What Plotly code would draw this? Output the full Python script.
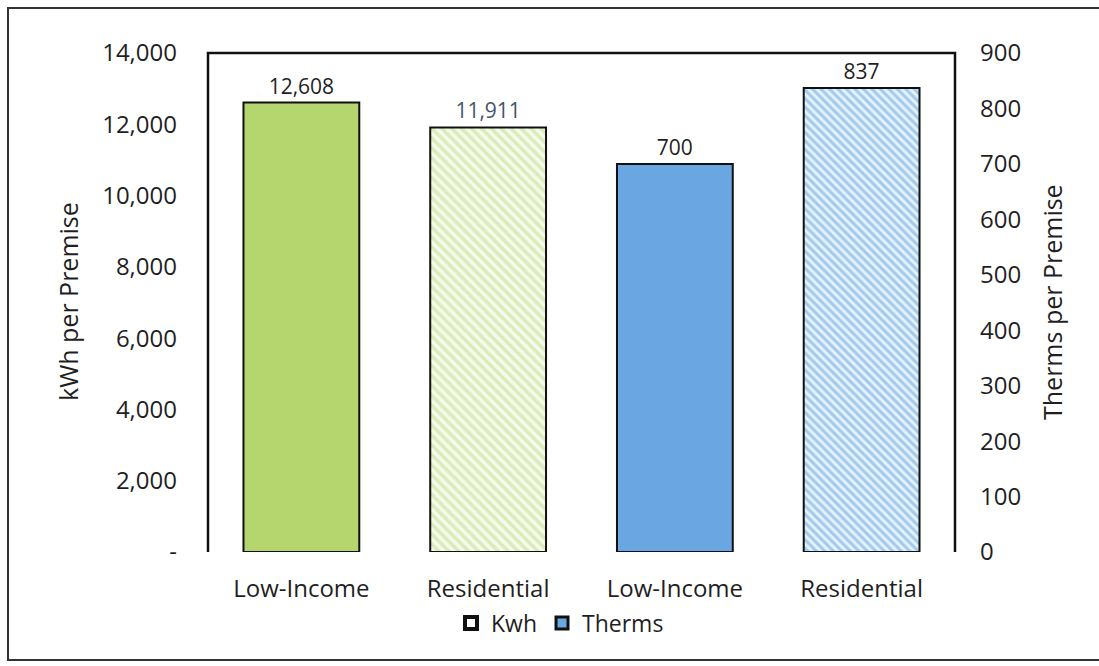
import plotly.graph_objects as go

# ---- data ----
categories = ["Low-Income", "Residential", "Low-Income", "Residential"]
kwh_values = [12608, 11911]
therms_values = [700, 837]
kwh_ticks = [0, 2000, 4000, 6000, 8000, 10000, 12000, 14000]
kwh_ticktext = ["-", "2,000", "4,000", "6,000", "8,000", "10,000", "12,000", "14,000"]
therms_ticks = [0, 100, 200, 300, 400, 500, 600, 700, 800, 900]

# ---- layout constants (pixels) ----
W, H = 1099, 666
L, R, T, B = 208, 955, 53, 552
pw, ph = R - L, B - T


def px(x):
    return (x - L) / pw


def py(y):
    return (B - y) / ph


FONT = "Open Sans"
TXT = "#1f1f1f"
GREEN = "#b5d56f"
GREEN_H = "#bfdb85"
GREEN_BG = "#f6faec"
BLUE = "#6aa6e2"
BLUE_H = "#62a2de"
BLUE_BG = "#e4f2fb"

x_kwh = list(range(len(kwh_values)))
x_therms = [len(kwh_values) + i for i in range(len(therms_values))]

kwh_styles = [
    dict(shape="", color=GREEN, fg=GREEN, bg=GREEN, label=TXT, size=7),
    dict(shape="\\", color=GREEN_BG, fg=GREEN_H, bg=GREEN_BG, label="#44546a", size=7),
]
therms_styles = [
    dict(shape="", color=BLUE, fg=BLUE, bg=BLUE, label=TXT, size=6),
    dict(shape="\\", color=BLUE_BG, fg=BLUE_H, bg=BLUE_BG, label=TXT, size=6),
]

fig = go.Figure()


def add_bar(xv, yv, axis, st):
    pattern = dict(shape=st["shape"])
    if st["shape"]:
        pattern.update(fillmode="overlay", fgcolor=st["fg"], bgcolor=st["bg"],
                       size=st["size"], solidity=0.5)
    fig.add_trace(go.Bar(
        x=[xv], y=[yv], yaxis=axis, showlegend=False, width=0.62,
        marker=dict(color=st["color"], line=dict(color="#111111", width=2), pattern=pattern),
        texttemplate="%{y:,}", textposition="outside",
        textfont=dict(family=FONT, size=21, color=st["label"]),
        cliponaxis=False,
    ))


for xv, yv, st in zip(x_kwh, kwh_values, kwh_styles):
    add_bar(xv, yv, "y", st)
for xv, yv, st in zip(x_therms, therms_values, therms_styles):
    add_bar(xv, yv, "y2", st)

# legend-only entries
fig.add_trace(go.Bar(x=[None], y=[None], name="Kwh",
                     marker=dict(color="white", line=dict(color="#111111", width=4))))
fig.add_trace(go.Bar(x=[None], y=[None], name="Therms",
                     marker=dict(color=BLUE, line=dict(color="#111111", width=3))))

fig.update_layout(
    width=W, height=H,
    margin=dict(l=L, r=W - R, t=T, b=H - B, autoexpand=False),
    paper_bgcolor="white", plot_bgcolor="white",
    barmode="overlay",
    font=dict(family=FONT, size=23, color=TXT),
    xaxis=dict(
        range=[-0.5, 3.5], tickvals=x_kwh + x_therms, ticktext=categories,
        showgrid=False, zeroline=False, showline=False, ticks="",
        ticklabelstandoff=20, tickfont=dict(size=24, color=TXT),
    ),
    yaxis=dict(
        range=[0, 14000], tickvals=kwh_ticks, ticktext=kwh_ticktext,
        showgrid=False, zeroline=False, showline=False, ticks="",
        ticklabelstandoff=30, tickfont=dict(size=24, color=TXT),
    ),
    yaxis2=dict(
        range=[0, 900], tickvals=therms_ticks, overlaying="y", side="right",
        showgrid=False, zeroline=False, showline=False, ticks="",
        ticklabelstandoff=24, tickfont=dict(size=24, color=TXT),
    ),
    legend=dict(
        orientation="h", x=px(560), y=py(623), xanchor="center", yanchor="middle",
        font=dict(size=23, color=TXT), bgcolor="rgba(0,0,0,0)",
        itemwidth=30, traceorder="normal",
    ),
    annotations=[
        dict(text="kWh per Premise", xref="paper", yref="paper", x=px(68), y=py(302),
             showarrow=False, textangle=-90, font=dict(size=25, color=TXT),
             xanchor="center", yanchor="middle"),
        dict(text="Therms per Premise", xref="paper", yref="paper", x=px(1052), y=py(302),
             showarrow=False, textangle=-90, font=dict(size=25, color=TXT),
             xanchor="center", yanchor="middle"),
    ],
    shapes=[
        dict(type="path", xref="paper", yref="paper",
             path="M 0 0 L 0 1 L 1 1 L 1 0",
             line=dict(color="#111111", width=2.5)),
        dict(type="rect", xref="paper", yref="paper",
             x0=px(8), x1=px(1110), y0=py(660), y1=py(8),
             line=dict(color="#333333", width=2), layer="below"),
    ],
)

fig.write_html("out.html")
